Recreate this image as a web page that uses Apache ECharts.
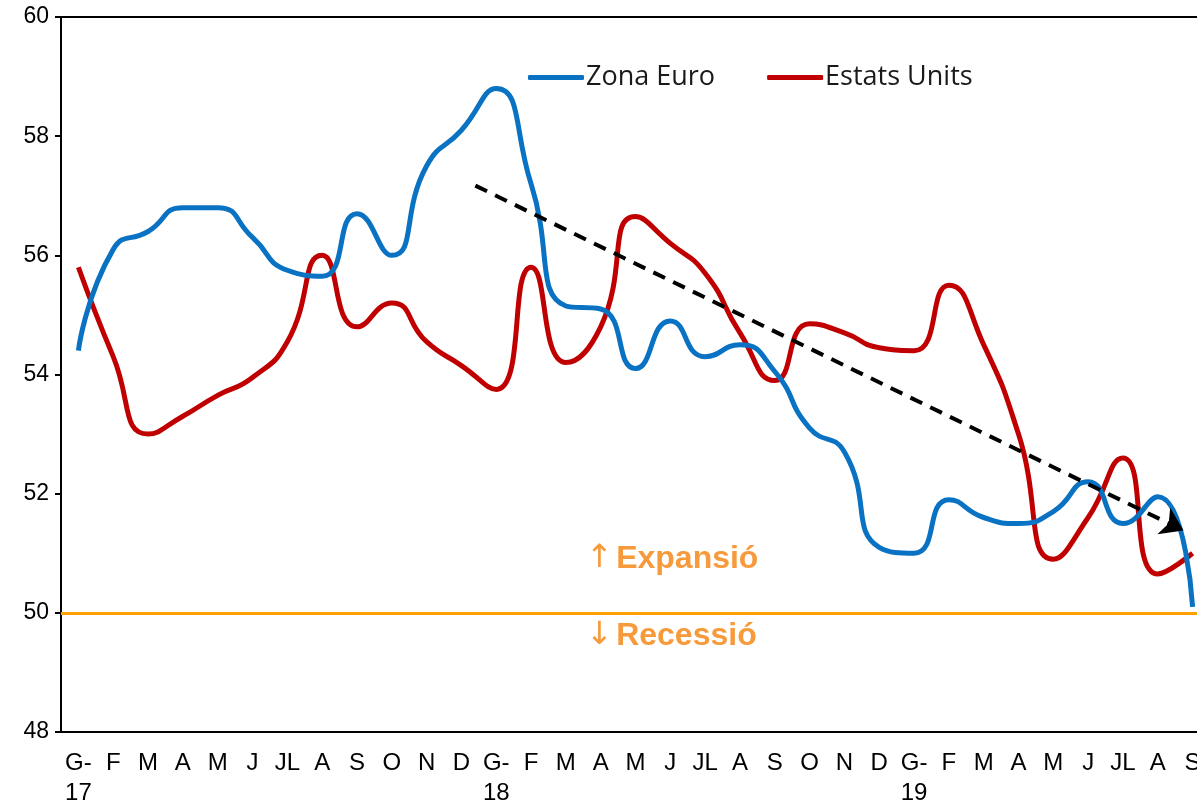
<!DOCTYPE html>
<html>
<head>
<meta charset="utf-8">
<script src="https://cdn.jsdelivr.net/npm/echarts@6/dist/echarts.min.js"></script>
<style>
  html, body { margin: 0; padding: 0; background: #fff; overflow: hidden; }
  #chart { width: 1210px; height: 808px; }
</style>
</head>
<body>
<div id="chart"></div>
<script>
const categories = ['G-\n17','F','M','A','M','J','JL','A','S','O','N','D',
  'G-\n18','F','M','A','M','J','JL','A','S','O','N','D',
  'G-\n19','F','M','A','M','J','JL','A','S'];
const zonaEuro = [54.4, 56.1, 56.4, 56.8, 56.8, 56.3, 55.75, 55.65, 56.7, 56.0, 57.5, 58.1,
  58.8, 57.2, 55.15, 55.1, 54.1, 54.9, 54.3, 54.5, 54.05, 53.1, 52.7, 51.1,
  51.0, 51.9, 51.6, 51.5, 51.7, 52.2, 51.5, 51.95, 50.1];
const estatsUnits = [55.8, 54.3, 53.0, 53.3, 53.65, 53.95, 54.55, 56.0, 54.8, 55.2, 54.55, 54.15,
  53.75, 55.8, 54.2, 54.8, 56.65, 56.2, 55.7, 54.7, 53.9, 54.85, 54.7, 54.45,
  54.4, 55.5, 54.5, 53.0, 50.9, 51.6, 52.6, 50.65, 51.0];
const trendStart = [11.4, 57.17];
const trendEnd = [31.74, 51.38];
const thresholdValue = 50;
const yTicks = { min: 48, max: 60, interval: 2 };

const chart = echarts.init(document.getElementById('chart'));
chart.setOption({
  animation: false,
  backgroundColor: '#fff',
  grid: { left: 61, top: 17, bottom: 70, right: 0, show: true, borderColor: '#000', borderWidth: 2, backgroundColor: 'transparent' },
  legend: {
    data: ['Zona Euro', 'Estats Units'],
    left: 523, top: 59,
    itemWidth: 56, itemHeight: 5, itemGap: 52,
    icon: 'roundRect',
    textStyle: { fontFamily: 'Open Sans', fontSize: 27, color: '#1a1a1a', padding: [0, 0, 0, -3] }
  },
  xAxis: [{
    type: 'category', data: categories, boundaryGap: true,
    axisLine: { lineStyle: { color: '#000', width: 2 } },
    axisTick: { show: false },
    axisLabel: { interval: 0, color: '#000', fontFamily: 'Liberation Sans', fontSize: 24, lineHeight: 30, margin: 16 },
    splitLine: { show: false }
  }, {
    type: 'value', min: -0.5, max: 32.5, show: false
  }],
  yAxis: {
    type: 'value', min: yTicks.min, max: yTicks.max, interval: yTicks.interval,
    axisLine: { show: true, onZero: false, lineStyle: { color: '#000', width: 2 } },
    axisTick: { show: true, length: 6, lineStyle: { color: '#000', width: 2 } },
    axisLabel: { color: '#000', fontFamily: 'Liberation Sans', fontSize: 23, margin: 12 },
    splitLine: { show: false }
  },
  series: [{
    name: 'Zona Euro', type: 'line', data: zonaEuro, smooth: 0.55,
    symbol: 'none', lineStyle: { color: '#0A72C2', width: 5 }, itemStyle: { color: '#0A72C2' },
    z: 3,
    markLine: {
      silent: true, symbol: 'none',
      label: { show: false },
      lineStyle: { color: '#FFA000', width: 3, type: 'solid' },
      data: [{ yAxis: thresholdValue }]
    }
  }, {
    name: 'Estats Units', type: 'line', data: estatsUnits, smooth: 0.55,
    symbol: 'none', lineStyle: { color: '#C00000', width: 5 }, itemStyle: { color: '#C00000' },
    z: 2
  }, {
    name: 'trend', type: 'line', xAxisIndex: 1,
    data: [trendStart, trendEnd], symbol: 'none',
    lineStyle: { opacity: 0 },
    z: 4,
    markLine: {
      silent: true,
      symbol: ['none', 'arrow'], symbolSize: 22,
      label: { show: false },
      itemStyle: { color: '#000' },
      lineStyle: { color: '#000', width: 4, type: [13, 9], opacity: 1 },
      data: [[{ coord: trendStart }, { coord: trendEnd }]]
    }
  }],
  graphic: [{
    type: 'text', left: 586, top: 543,
    style: {
      text: '{a|↑} {b|Expansió}',
      rich: {
        a: { fill: '#F79A3B', font: '32px "DejaVu Sans"' },
        b: { fill: '#F79A3B', font: 'bold 32px "Liberation Sans"' }
      }
    }
  }, {
    type: 'text', left: 586, top: 620,
    style: {
      text: '{a|↓} {b|Recessió}',
      rich: {
        a: { fill: '#F79A3B', font: '32px "DejaVu Sans"' },
        b: { fill: '#F79A3B', font: 'bold 32px "Liberation Sans"' }
      }
    }
  }]
});
</script>
</body>
</html>
